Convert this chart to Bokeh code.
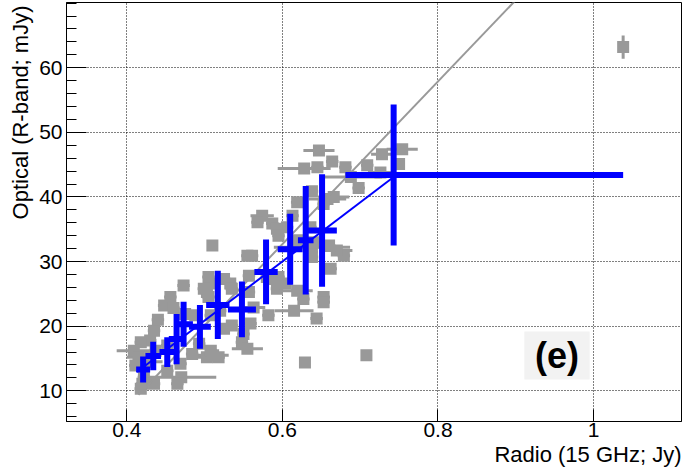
import math
from bokeh.plotting import figure
from bokeh.models import Range1d, Label, BoxAnnotation, FixedTicker, Title
from bokeh.embed import file_html
from bokeh.resources import INLINE

# ---------------- data ----------------
gray_x = [1.038, 0.754, 0.750, 0.728, 0.709, 0.681, 0.664, 0.647, 0.645, 0.628,
          0.688, 0.698, 0.726, 0.638, 0.658, 0.619, 0.613, 0.574, 0.587, 0.568,
          0.636, 0.606, 0.593, 0.619, 0.638, 0.679, 0.662, 0.619, 0.653, 0.561,
          0.666, 0.670, 0.653, 0.640, 0.660, 0.638, 0.595, 0.627, 0.653, 0.644,
          0.629, 0.708, 0.510, 0.595, 0.580, 0.533, 0.503, 0.505, 0.555, 0.557,
          0.563, 0.559, 0.582, 0.615, 0.593, 0.604, 0.589, 0.557, 0.473, 0.510,
          0.525, 0.535, 0.456, 0.448, 0.475, 0.488, 0.508, 0.520, 0.525, 0.550,
          0.548, 0.555, 0.435, 0.430, 0.418, 0.409, 0.415, 0.411, 0.422, 0.420,
          0.435, 0.452, 0.470, 0.469, 0.484, 0.503, 0.518, 0.508, 0.493, 0.535,
          0.499, 0.505, 0.437, 0.452, 0.465, 0.426, 0.511, 0.440, 0.460, 0.430,
          0.418]
gray_y = [63.2, 47.4, 45.1, 46.6, 44.9, 44.6, 45.5, 47.2, 44.6, 44.4,
          43.1, 41.4, 43.8, 40.9, 39.7, 39.2, 37.1, 37.1, 35.9, 36.1,
          35.3, 35.3, 35.1, 33.3, 32.2, 30.9, 28.9, 25.5, 24.5, 30.9,
          40.0, 31.7, 38.9, 33.0, 32.5, 30.7, 27.6, 24.2, 23.7, 21.2,
          14.4, 15.5, 32.5, 34.0, 27.6, 26.6, 25.3, 27.6, 30.9, 25.3,
          22.9, 20.4, 21.7, 22.4, 25.8, 26.6, 27.3, 27.8, 26.3, 26.6,
          27.3, 25.8, 24.5, 23.2, 21.9, 21.7, 21.7, 22.4, 19.6, 18.8,
          17.5, 16.5, 19.3, 17.8, 17.5, 16.2, 15.2, 13.9, 12.1, 11.1,
          11.1, 13.1, 12.1, 14.2, 15.7, 15.2, 15.2, 16.2, 17.3, 20.1,
          25.8, 24.5, 16.2, 17.0, 11.1, 14.5, 15.5, 21.0, 22.8, 15.3,
          10.3]
gray_xerr = [0.004, 0.020, 0.006, 0.014, 0.008, 0.008, 0.008, 0.020, 0.008, 0.034,
             0.040, 0.008, 0.016, 0.008, 0.024, 0.008, 0.008, 0.015, 0.008, 0.008,
             0.008, 0.008, 0.008, 0.008, 0.049, 0.008, 0.008, 0.020, 0.008, 0.008,
             0.020, 0.020, 0.008, 0.008, 0.008, 0.008, 0.008, 0.008, 0.008, 0.008,
             0.006, 0.006, 0.006, 0.008, 0.008, 0.008, 0.008, 0.008, 0.008, 0.008,
             0.015, 0.008, 0.008, 0.025, 0.008, 0.008, 0.008, 0.008, 0.008, 0.008,
             0.008, 0.008, 0.008, 0.008, 0.008, 0.008, 0.008, 0.008, 0.008, 0.008,
             0.008, 0.020, 0.008, 0.008, 0.008, 0.022, 0.015, 0.008, 0.008, 0.008,
             0.008, 0.008, 0.045, 0.008, 0.008, 0.015, 0.008, 0.008, 0.008, 0.008,
             0.008, 0.008, 0.008, 0.008, 0.008, 0.020, 0.020, 0.008, 0.008, 0.008,
             0.008]
gray_yerr = [1.8] + [0.7] * (len(gray_x) - 1)

blue_x = [0.421, 0.434, 0.452, 0.464, 0.473, 0.494, 0.517, 0.548, 0.579, 0.610, 0.630, 0.651, 0.743]
blue_y = [13.3, 15.4, 16.0, 18.0, 20.3, 19.9, 23.3, 22.6, 28.4, 31.9, 33.3, 34.8, 43.4]
blue_xerr_lo = [0.009, 0.010, 0.010, 0.010, 0.012, 0.014, 0.015, 0.018, 0.015, 0.016, 0.010, 0.019, 0.062]
blue_xerr_hi = [0.009, 0.010, 0.010, 0.010, 0.012, 0.014, 0.015, 0.018, 0.015, 0.016, 0.010, 0.019, 0.295]
blue_yerr = [2.0, 2.2, 2.3, 3.9, 3.5, 3.4, 5.3, 4.3, 5.0, 5.5, 8.4, 8.7, 10.9]

gray_fit_x = [0.415, 0.905]
gray_fit_y = [9.4, 71.1]
blue_fit_x = [0.413, 0.743]
blue_fit_y = [12.9, 43.1]

x_ticks = [0.4, 0.6, 0.8, 1.0]
x_tick_labels = {0.4: "0.4", 0.6: "0.6", 0.8: "0.8", 1.0: "1"}
y_ticks = [10, 20, 30, 40, 50, 60]
y_minor_ticks = [6, 8, 12, 14, 16, 18, 22, 24, 26, 28, 32, 34, 36, 38,
                 42, 44, 46, 48, 52, 54, 56, 58, 62, 64, 66, 68, 70]

x_title = "Radio (15 GHz; Jy)"
y_title = "Optical (R-band; mJy)"
panel_tag = "(e)"

# ---------------- style ----------------
GRAY = "#999999"
BLUE = "#0000ff"
FONT = "Liberation Sans"
X0, X1 = 0.3225, 1.113
Y0, Y1 = 5.25, 70.1

p = figure(width=683, height=472, output_backend="svg", toolbar_location=None,
           x_range=Range1d(X0, X1), y_range=Range1d(Y0, Y1),
           min_border_left=66, min_border_right=2, min_border_top=2, min_border_bottom=51)
p.background_fill_color = "white"
p.border_fill_color = "white"
p.outline_line_color = "black"
p.outline_line_width = 1

p.xaxis.ticker = FixedTicker(ticks=x_ticks)
p.xaxis.major_label_overrides = x_tick_labels
p.yaxis.ticker = FixedTicker(ticks=y_ticks, minor_ticks=y_minor_ticks)

for ax in (p.xaxis[0], p.yaxis[0]):
    ax.axis_line_color = "black"
    ax.major_tick_line_color = "black"
    ax.minor_tick_line_color = "black"
    ax.major_tick_out = 0
    ax.minor_tick_out = 0
    ax.major_label_text_font = FONT
    ax.major_label_text_font_size = "21px"
    ax.major_label_text_color = "black"
p.xaxis.major_tick_in = 12
p.xaxis.minor_tick_line_color = None
p.xaxis.major_label_standoff = 1
p.yaxis.major_tick_in = 20
p.yaxis.minor_tick_in = 10
p.yaxis.major_label_standoff = 4

for g in (p.xgrid[0], p.ygrid[0]):
    g.grid_line_color = "black"
    g.grid_line_dash = "1 2"
    g.grid_line_width = 1

# gray points
gx_lo = [x - e for x, e in zip(gray_x, gray_xerr)]
gx_hi = [x + e for x, e in zip(gray_x, gray_xerr)]
gy_lo = [y - e for y, e in zip(gray_y, gray_yerr)]
gy_hi = [y + e for y, e in zip(gray_y, gray_yerr)]
p.segment(x0=gx_lo, y0=gray_y, x1=gx_hi, y1=gray_y, line_color=GRAY, line_width=3)
p.segment(x0=gray_x, y0=gy_lo, x1=gray_x, y1=gy_hi, line_color=GRAY, line_width=3)
p.scatter(x=gray_x, y=gray_y, marker="square", size=12, fill_color=GRAY, line_color=None)

p.line(x=gray_fit_x, y=gray_fit_y, line_color=GRAY, line_width=2)

# blue binned points
bx_lo = [x - e for x, e in zip(blue_x, blue_xerr_lo)]
bx_hi = [x + e for x, e in zip(blue_x, blue_xerr_hi)]
by_lo = [y - e for y, e in zip(blue_y, blue_yerr)]
by_hi = [y + e for y, e in zip(blue_y, blue_yerr)]
p.segment(x0=bx_lo, y0=blue_y, x1=bx_hi, y1=blue_y, line_color=BLUE, line_width=6)
p.segment(x0=blue_x, y0=by_lo, x1=blue_x, y1=by_hi, line_color=BLUE, line_width=6)
p.line(x=blue_fit_x, y=blue_fit_y, line_color=BLUE, line_width=2)

# axis titles (side titles, not clipped by the frame)
p.add_layout(Title(text=y_title, align="right", text_font=FONT, text_font_size="22px",
                   text_font_style="normal", text_color="black", standoff=8, offset=3), "left")
p.add_layout(Title(text=x_title, align="right", text_font=FONT, text_font_size="22px",
                   text_font_style="normal", text_color="black", standoff=0, offset=0), "below")

# panel tag
p.add_layout(BoxAnnotation(left=0.911, right=0.995, bottom=11.75, top=19.18,
                           fill_color="#f2f2f2", fill_alpha=1.0, line_color=None))
p.add_layout(Label(x=0.953, y=15.46, text=panel_tag, text_align="center",
                   text_baseline="middle", text_font=FONT, text_font_size="36px",
                   text_font_style="bold", text_color="black"))

open("out.html", "w").write(file_html(p, INLINE))
